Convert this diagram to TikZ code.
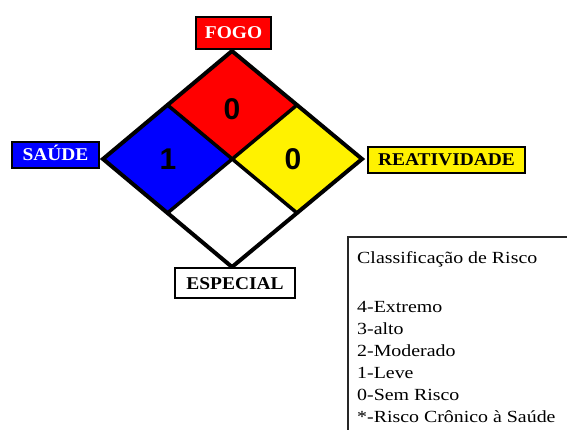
\documentclass[tikz,border=0pt]{standalone}
\usepackage{fontspec}
\setmainfont{Liberation Serif}[FakeStretch=1.17]
\newfontfamily\labelfont{Liberation Serif}[FakeStretch=1.08]
\newfontfamily\digitfont{Liberation Sans}

\begin{document}
\begin{tikzpicture}[x=1pt,y=-1pt,
  labelbox/.style={draw,line width=1.6pt,inner sep=0pt,
    text height=12pt,text depth=0pt,minimum height=26pt,
    font=\labelfont\fontsize{18}{20}\selectfont\bfseries},
  digit/.style={font=\digitfont\fontsize{30}{30}\selectfont\bfseries}]
\clip (0,0) rectangle (567,430);
% corners of the diamond
\coordinate (top) at (232,51);
\coordinate (left) at (103,159);
\coordinate (right) at (362,159);
\coordinate (bottom) at (232,267);
\coordinate (mid) at (232,159);
\coordinate (tl) at (167.5,105);
\coordinate (tr) at (297,105);
\coordinate (bl) at (167.5,213);
\coordinate (br) at (297,213);
\fill[red] (top) -- (tr) -- (mid) -- (tl) -- cycle;
\fill[blue] (left) -- (tl) -- (mid) -- (bl) -- cycle;
\fill[yellow] (right) -- (tr) -- (mid) -- (br) -- cycle;
\draw[line width=3.5pt] (tl) -- (br) (tr) -- (bl);
\draw[line width=4pt] (top) -- (right) -- (bottom) -- (left) -- cycle;
% numbers
\node (fogonum) [digit] at (232,109) {0};
\node (saudenum) [digit] at (168,159) {1};
\node (reatnum) [digit] at (293,159) {0};
% labels
\node (fogo) [labelbox,fill=red,text=white,minimum width=75pt,minimum height=32pt] at (233.5,33) {FOGO};
\node (saude) [labelbox,fill=blue,text=white,minimum width=87pt] at (55.5,155) {SAÚDE};
\node (reat) [labelbox,fill=yellow,minimum width=157pt] at (446.5,160) {REATIVIDADE};
\node (especial) [labelbox,fill=white,minimum width=120pt,minimum height=30pt] at (235,283) {ESPECIAL};
% legend
\draw[line width=1.5pt,black!85] (348,237) rectangle (600,460);
\node (legend) [anchor=north west,align=left,inner sep=0pt,
  font=\fontsize{17}{22}\selectfont] at (357,251)
  {Classificação de Risco\\[27pt]
   4-Extremo\\
   3-alto\\
   2-Moderado\\
   1-Leve\\
   0-Sem Risco\\
   *-Risco Crônico à Saúde};
\end{tikzpicture}
\end{document}
